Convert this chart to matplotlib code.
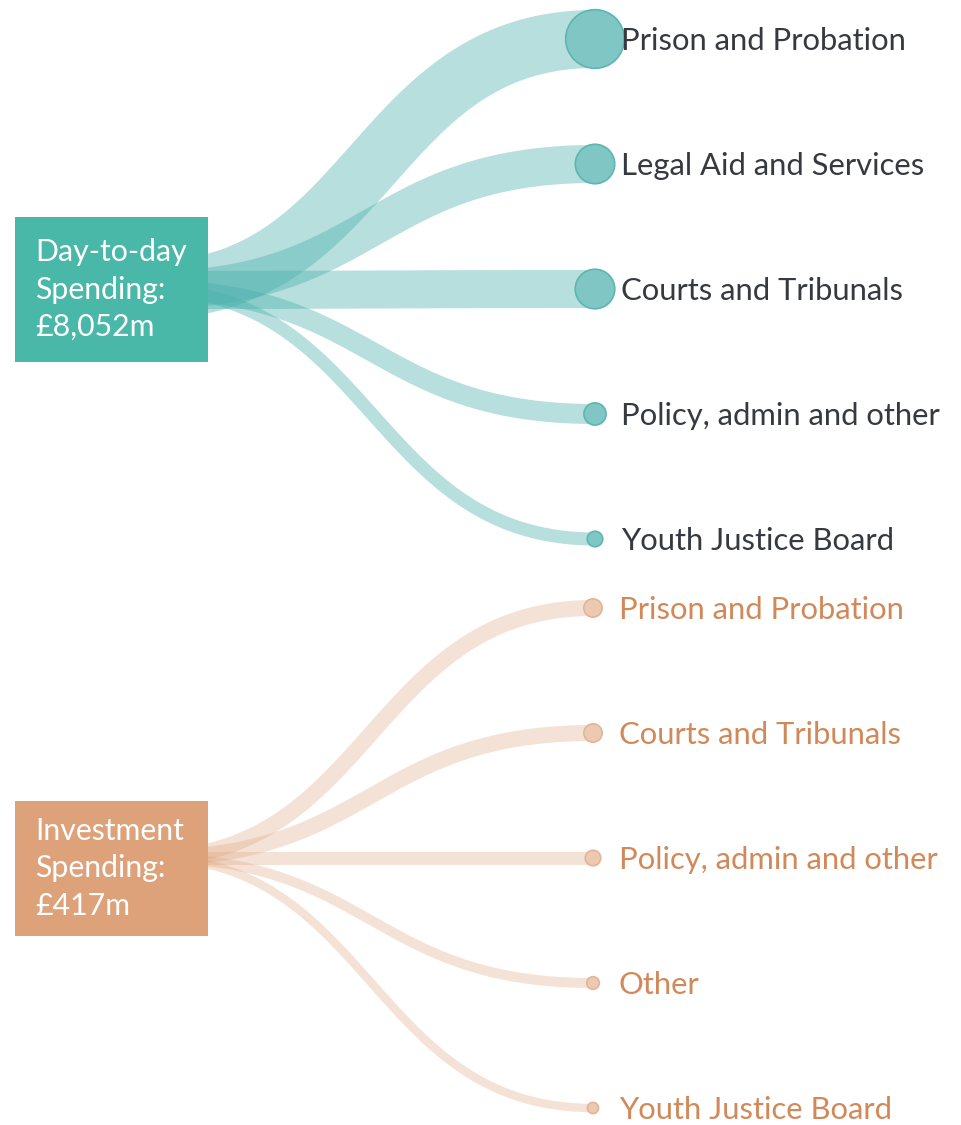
import numpy as np
import matplotlib
matplotlib.use("Agg")
import matplotlib.pyplot as plt
from matplotlib.patches import Rectangle, Circle

plt.rcParams['font.family'] = ['Lato', 'DejaVu Sans']

day_title = "Day-to-day\nSpending:\n£8,052m"
day_labels = ['Prison and Probation', 'Legal Aid and Services', 'Courts and Tribunals',
              'Policy, admin and other', 'Youth Justice Board']
day_values = [3970, 1700, 1710, 472, 200]

inv_title = "Investment\nSpending:\n£417m"
inv_labels = ['Prison and Probation', 'Courts and Tribunals', 'Policy, admin and other',
              'Other', 'Youth Justice Board']
inv_values = [125, 125, 83, 49, 35]

W, H = 961, 1125
fig = plt.figure(figsize=(W / 100, H / 100), dpi=100)
ax = fig.add_axes([0, 0, 1, 1])
ax.set_xlim(0, W)
ax.set_ylim(H, 0)
ax.axis('off')

PX = 72 / 100  # pixels -> points


def draw_group(title, labels, values, box_y, src_y, top, max_w,
               box_col, band_col, band_alpha, dot_col, dot_edge, txt_col, tgt_x, lab_x):
    values = np.array(values, dtype=float)
    widths = max_w * np.sqrt(values / values.max())
    t = np.linspace(0, 1, 200)[:, None]
    x0, x1 = 150, tgt_x
    xm = (x0 + x1) / 2
    for i, (lab, w) in enumerate(zip(labels, widths)):
        ty = top + i * 125
        p = np.array([[x0, src_y], [xm, src_y], [xm, ty], [x1, ty]])
        curve = ((1 - t) ** 3) * p[0] + 3 * t * (1 - t) ** 2 * p[1] + 3 * t ** 2 * (1 - t) * p[2] + t ** 3 * p[3]
        ax.plot(curve[:, 0], curve[:, 1], color=band_col, alpha=band_alpha,
                lw=w * PX, solid_capstyle='butt', zorder=1)
        r = 0.48 * w + 1.5
        ax.add_patch(Circle((x1, ty), r, facecolor=dot_col, edgecolor=dot_edge,
                            lw=1.2, zorder=4))
        ax.text(lab_x, ty + 2, lab, color=txt_col, fontsize=22.3, va='center', ha='left', zorder=5)
    ax.add_patch(Rectangle((15, box_y[0]), 193, box_y[1] - box_y[0], facecolor=box_col,
                           edgecolor='none', zorder=3))
    ax.text(35, (box_y[0] + box_y[1]) / 2, title, color='white', fontsize=21.8,
            va='center', ha='left', linespacing=1.42, zorder=5)


draw_group(day_title, day_labels, day_values, (217, 362), 290, 39, 58,
           '#4AB8A8', '#4AB0AC', 0.4, '#80C6C4', '#5DB6B2', '#363a40', 595, 621)
draw_group(inv_title, inv_labels, inv_values, (801, 936), 858, 608, 16,
           '#DDA27A', '#DDA27A', 0.3, '#EEC9B2', '#E2B597', '#D2895A', 593, 619)

fig.savefig('out.png', dpi=100, facecolor='white')
